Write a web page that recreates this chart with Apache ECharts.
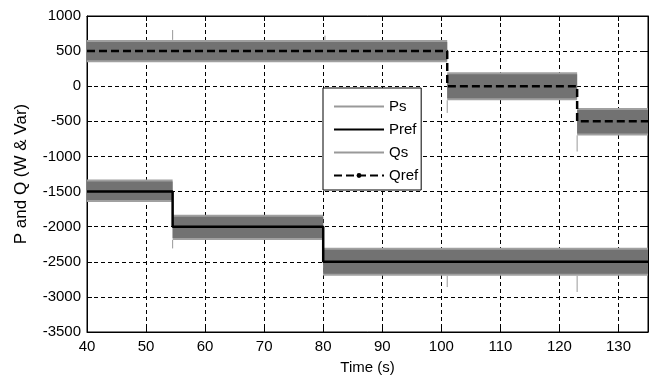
<!DOCTYPE html>
<html>
<head>
<meta charset="utf-8">
<script src="https://cdn.jsdelivr.net/npm/echarts@6/dist/echarts.min.js"></script>
<style>html,body{margin:0;padding:0;background:#fff}#c{width:655px;height:380px}</style>
</head>
<body>
<div id="c"></div>
<script>
// ---- data ----
const psBounds = [40, 54.5, 80, 135];       // P step times (s)
const prefLevels = [-1500, -2000, -2500];   // Pref per segment
const psLow = [-1650, -2190, -2700];        // Ps noise envelope (low)
const psHigh = [-1330, -1830, -2300];       // Ps noise envelope (high)
const qsBounds = [40, 101, 123, 135];       // Q step times (s)
const qrefLevels = [500, 0, -500];          // Qref per segment
const qsLow = [340, -200, -700];            // Qs noise envelope (low)
const qsHigh = [660, 200, -310];            // Qs noise envelope (high)
// transient spikes: time, start value, tip value
const psSpikeT = [54.5, 101, 123];
const psSpikeFrom = [-2190, -2700, -2700];
const psSpikeTo = [-2310, -2860, -2930];
const qsSpikeT = [54.5, 80.3, 101, 123];
const qsSpikeFrom = [660, 660, -200, -700];
const qsSpikeTo = [800, 720, -380, -930];
const xTicks = {min: 40, max: 135, interval: 10};
const yTicks = {min: -3500, max: 1000, interval: 500};
const legendNames = ['Ps', 'Pref', 'Qs', 'Qref'];

// ---- build library data ----
function stepLine(bounds, levels) {
  const out = [];
  for (let i = 0; i < levels.length; i++) {
    out.push([bounds[i], levels[i]]);
    out.push([bounds[i + 1], levels[i]]);
  }
  return out;
}
function bands(bounds, lo, hi) {
  return lo.map((v, i) => [bounds[i], bounds[i + 1], v, hi[i]]);
}
function spikes(t, a, b) {
  const out = [];
  t.forEach((x, i) => { out.push([x, a[i]], [x, b[i]], [null, null]); });
  return out;
}
function renderBand(params, api) {
  const p0 = api.coord([api.value(0), api.value(3)]);
  const p1 = api.coord([api.value(1), api.value(2)]);
  const w = p1[0] - p0[0], h = p1[1] - p0[1];
  return {
    type: 'group',
    children: [
      {type: 'rect', shape: {x: p0[0], y: p0[1], width: w, height: h}, style: {fill: '#a0a0a0'}},
      {type: 'rect', shape: {x: p0[0], y: p0[1] + 2, width: w, height: h - 4}, style: {fill: '#727272'}}
    ]
  };
}

const FONT = '"Liberation Sans", Arial, sans-serif';
const chart = echarts.init(document.getElementById('c'), null, {renderer: 'canvas'});
chart.setOption({
  animation: false,
  backgroundColor: '#fff',
  grid: {left: 87, right: 7, top: 16, bottom: 47, show: true, borderColor: '#000', borderWidth: 1, backgroundColor: 'transparent'},
  legend: {
    orient: 'vertical', left: 323, top: 88,
    padding: [11, 3, 7, 10],
    itemWidth: 50, itemHeight: 6, itemGap: 8,
    backgroundColor: '#fff', borderColor: '#000', borderWidth: 1,
    textStyle: {fontFamily: FONT, fontSize: 15, lineHeight: 15, color: '#000'},
    data: legendNames.map(n => n === 'Qref' ? {name: n} : {name: n, itemStyle: {opacity: 0}})
  },
  xAxis: [{
    type: 'value', min: xTicks.min, max: xTicks.max, interval: xTicks.interval,
    name: 'Time (s)', nameLocation: 'middle', nameGap: 28,
    nameTextStyle: {fontFamily: FONT, fontSize: 15, color: '#000'},
    axisLine: {onZero: false, lineStyle: {color: '#000', width: 1}},
    axisTick: {inside: true, length: 5, lineStyle: {color: '#000'}},
    axisLabel: {fontFamily: FONT, fontSize: 15, color: '#000', margin: 7, showMaxLabel: false},
    splitLine: {show: true, lineStyle: {color: '#000', width: 1, type: [4, 3]}}
  }, {
    type: 'value', position: 'top', min: xTicks.min, max: xTicks.max, interval: xTicks.interval,
    axisLine: {show: true, onZero: false, lineStyle: {color: '#000'}},
    axisTick: {inside: true, length: 5, lineStyle: {color: '#000'}},
    axisLabel: {show: false}, splitLine: {show: false}
  }],
  yAxis: [{
    type: 'value', min: yTicks.min, max: yTicks.max, interval: yTicks.interval,
    name: 'P and Q (W & Var)', nameLocation: 'middle', nameGap: 57,
    nameTextStyle: {fontFamily: FONT, fontSize: 17, color: '#000'},
    axisLine: {show: true, onZero: false, lineStyle: {color: '#000', width: 1}},
    axisTick: {show: true, inside: true, length: 5, lineStyle: {color: '#000'}},
    axisLabel: {fontFamily: FONT, fontSize: 15, color: '#000', margin: 6, formatter: v => String(v)},
    splitLine: {show: true, lineStyle: {color: '#000', width: 1, type: [4, 3]}}
  }, {
    type: 'value', position: 'right', min: yTicks.min, max: yTicks.max, interval: yTicks.interval,
    axisLine: {show: true, onZero: false, lineStyle: {color: '#000'}},
    axisTick: {show: true, inside: true, length: 5, lineStyle: {color: '#000'}},
    axisLabel: {show: false}, splitLine: {show: false}
  }],
  series: [
    {name: 'Ps', type: 'line', data: spikes(psSpikeT, psSpikeFrom, psSpikeTo), symbol: 'none',
     connectNulls: false, lineStyle: {color: '#999', width: 1}, itemStyle: {color: '#999'}, z: 3},
    {name: 'Ps', type: 'custom', data: bands(psBounds, psLow, psHigh), renderItem: renderBand,
     encode: {x: [0, 1], y: [2, 3]}, itemStyle: {color: '#888'}, z: 2},
    {name: 'Pref', type: 'line', data: stepLine(psBounds, prefLevels), symbol: 'none',
     lineStyle: {color: '#000', width: 2.5}, itemStyle: {color: '#000'}, z: 5},
    {name: 'Qs', type: 'line', data: spikes(qsSpikeT, qsSpikeFrom, qsSpikeTo), symbol: 'none',
     connectNulls: false, lineStyle: {color: '#999', width: 1}, itemStyle: {color: '#999'}, z: 3},
    {name: 'Qs', type: 'custom', data: bands(qsBounds, qsLow, qsHigh), renderItem: renderBand,
     encode: {x: [0, 1], y: [2, 3]}, itemStyle: {color: '#888'}, z: 2},
    {name: 'Qref', type: 'line', data: stepLine(qsBounds, qrefLevels), symbol: 'circle', symbolSize: 5,
     showSymbol: false, lineStyle: {color: '#000', width: 2.5, type: [8, 4]}, itemStyle: {color: '#000'}, z: 5}
  ]
});
</script>
</body>
</html>
